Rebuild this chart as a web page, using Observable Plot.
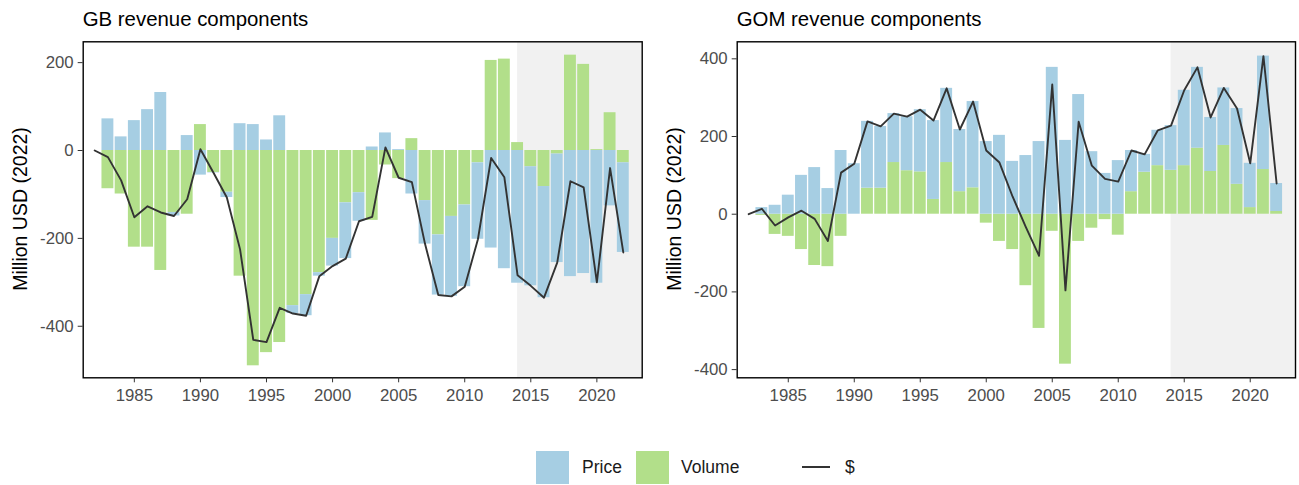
<!DOCTYPE html>
<html>
<head>
<meta charset="utf-8">
<script src="https://cdn.jsdelivr.net/npm/d3@7"></script>
<script src="https://cdn.jsdelivr.net/npm/@observablehq/plot@0.6"></script>
<style>
  html, body { margin: 0; padding: 0; background: #ffffff; }
  #root { position: relative; width: 1299px; height: 485px; overflow: hidden; background: #ffffff;
          font-family: "Liberation Sans", Arial, sans-serif; }
  .abs { position: absolute; white-space: nowrap; line-height: 1; }
  .title { font-size: 20.4px; color: #000; }
  .ylab { font-size: 19.5px; color: #000; transform: translate(-50%, -50%) rotate(-90deg); }
  .legtext { font-size: 17.5px; color: #1a1a1a; }
  .swatch { width: 33px; height: 33px; }
</style>
</head>
<body>
<div id="root"></div>
<script>
// ---------------- data ----------------
const years = [1982, 1983, 1984, 1985, 1986, 1987, 1988, 1989, 1990, 1991,
               1992, 1993, 1994, 1995, 1996, 1997, 1998, 1999, 2000, 2001,
               2002, 2003, 2004, 2005, 2006, 2007, 2008, 2009, 2010, 2011,
               2012, 2013, 2014, 2015, 2016, 2017, 2018, 2019, 2020, 2021, 2022];

// GB revenue components (Million USD, 2022)
const gbPrice  = [0, 72, 31, 68, 93, 132, -8, 34, -56, -1,
                  -12, 61, 59, 24, 79, -18, -48, -8, -63, -127,
                  -65, 8, 40, 2, -99, -99, -137, -182, -186, -174,
                  -222, -269, -302, -271, -253, -247, -287, -280, -302, -126, -204];
const gbVolume = [0, -87, -99, -220, -220, -273, -141, -145, 59, -50,
                  -95, -286, -490, -460, -437, -353, -328, -278, -200, -119,
                  -96, -159, -33, -64, 27, -114, -192, -150, -124, -28,
                  205, 208, 18, -37, -82, -8, 217, 196, 2, 86, -28];

// GOM revenue components (Million USD, 2022)
const gomPrice  = [0, 17, 23, 49, 100, 120, 66, 164, 130, 172,
                   159, 126, 139, 160, 203, 191, 160, 222, 187, 203,
                   136, 151, 187, 378, 190, 308, 161, 105, 138, 106,
                   46, 91, 115, 194, 208, 139, 148, 195, 114, 292, 72];
const gomVolume = [0, -3, -52, -57, -91, -132, -135, -57, 0, 67,
                   67, 133, 112, 109, 38, 133, 58, 68, -23, -70,
                   -91, -184, -294, -44, -386, -70, -36, -14, -54, 58,
                   108, 125, 113, 125, 170, 110, 177, 77, 17, 115, 7];

const components = ["Price", "Volume"];
const lineLabel = "$";
const panelTitles = ["GB revenue components", "GOM revenue components"];
const yTitle = "Million USD (2022)";
const xTicks = [1985, 1990, 1995, 2000, 2005, 2010, 2015, 2020];
const gbYTicks = [-400, -200, 0, 200];
const gomYTicks = [-400, -200, 0, 200, 400];
const shadeStart = 2014;

// ---------------- styling ----------------
const FONT = "Liberation Sans, Arial, sans-serif";
const BLUE = "#A6CEE3";
const GREEN = "#B2DF8A";
const LINE = "#333333";
const SHADE = "#F1F1F1";
const xDomain = [1981.13, 2023.43];
const barHalf = 0.45;

function rowsFor(price, volume) {
  const rows = [];
  // Volume first so it sits next to zero in the stack
  years.forEach((y, i) => rows.push({year: y, component: "Volume", value: volume[i]}));
  years.forEach((y, i) => rows.push({year: y, component: "Price", value: price[i]}));
  return rows;
}

function panel(price, volume, yDomain, yTicks, width, marginLeft, marginRight) {
  const rows = rowsFor(price, volume);
  const totals = years.map((y, i) => ({year: y, total: price[i] + volume[i]}));
  return Plot.plot({
    width, height: 420,
    marginLeft, marginRight, marginTop: 41.3, marginBottom: 42.7,
    style: {fontFamily: FONT, background: "transparent", overflow: "visible"},
    x: {domain: xDomain},
    y: {domain: yDomain},
    color: {domain: components, range: [BLUE, GREEN]},
    marks: [
      Plot.rect([shadeStart], {x1: d => d, x2: xDomain[1], y1: yDomain[0], y2: yDomain[1], fill: SHADE}),
      Plot.rectY(rows, Plot.stackY({
        x1: d => d.year - barHalf,
        x2: d => d.year + barHalf,
        y: "value",
        fill: "component"
      })),
      Plot.line(totals, {x: "year", y: "total", stroke: LINE, strokeWidth: 1.9}),
      Plot.frame({stroke: "#000", strokeWidth: 1.4}),
      Plot.axisY(yTicks, {tickSize: 5, tickPadding: 4.5, tickFormat: d => String(d),
                          fontSize: 16.8, fill: "#4d4d4d", stroke: "#333", label: null}),
      Plot.axisX(xTicks, {tickSize: 5, tickPadding: 6, tickFormat: d => String(d),
                          fontSize: 16.8, fill: "#4d4d4d", stroke: "#333", label: null})
    ]
  });
}

const root = document.getElementById("root");
function place(el, left, top) {
  const w = document.createElement("div");
  w.className = "abs";
  w.style.left = left + "px";
  w.style.top = top + "px";
  w.appendChild(el);
  root.appendChild(w);
  return w;
}
function text(str, cls, left, top) {
  const d = document.createElement("div");
  d.className = "abs " + cls;
  d.textContent = str;
  d.style.left = left + "px";
  d.style.top = top + "px";
  root.appendChild(d);
  return d;
}

const gb = panel(gbPrice, gbVolume, [-517.3, 247.4], gbYTicks, 650, 82.7, 8.3);
const gom = panel(gomPrice, gomVolume, [-421.1, 443.8], gomYTicks, 645, 82.7, 4);
place(gb, 0, 0);
place(gom, 654, 0);

text(panelTitles[0], "title", 82.7, 8.8);
text(panelTitles[1], "title", 736.7, 8.8);
text(yTitle, "ylab", 21, 209);
text(yTitle, "ylab", 675, 209);

// legend
function swatch(color, left) {
  const s = document.createElement("div");
  s.className = "abs swatch";
  s.style.left = left + "px";
  s.style.top = "451px";
  s.style.background = color;
  root.appendChild(s);
}
swatch(BLUE, 536);
text(components[0], "legtext", 582, 467 - 8.5);
swatch(GREEN, 636);
text(components[1], "legtext", 681, 467 - 8.5);
const ln = document.createElement("div");
ln.className = "abs";
ln.style.left = "802px"; ln.style.top = "466px";
ln.style.width = "28px"; ln.style.height = "1.9px"; ln.style.background = LINE;
root.appendChild(ln);
text(lineLabel, "legtext", 845, 467 - 8.5);
</script>
</body>
</html>
